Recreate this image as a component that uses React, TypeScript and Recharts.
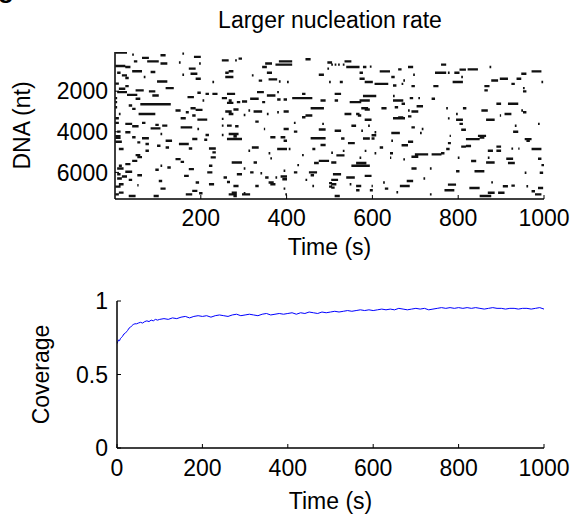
import { LineChart, Line, XAxis, YAxis, Label } from 'recharts';

// binding events on the DNA: [start (s), end (s), position (nt)]
const bindingEvents: [number, number, number][] = [
  [1, 28, 100], [40, 44, 200], [106, 118, 230], [157, 161, 150], [184, 200, 310], [63, 79, 360],
  [44, 52, 530], [75, 102, 530], [106, 122, 640], [149, 153, 590], [196, 200, 640], [1, 24, 760],
  [24, 36, 810], [172, 188, 890], [40, 63, 1020], [83, 94, 1055], [5, 13, 1090], [176, 192, 1140],
  [157, 161, 1190], [16, 28, 1220], [67, 71, 1300], [24, 32, 1350], [188, 200, 1385], [98, 122, 1520],
  [227, 231, 1550], [1, 9, 1630], [24, 32, 1750], [118, 137, 1850], [9, 24, 1880], [48, 67, 1960],
  [79, 94, 2010], [5, 28, 2045], [192, 200, 2080], [211, 219, 2130], [227, 239, 2130], [28, 52, 2180],
  [87, 102, 2210], [169, 184, 2290], [1, 5, 2340], [48, 59, 2375], [204, 208, 2460], [1, 5, 2540],
  [59, 130, 2640], [32, 40, 2705], [1, 5, 2790], [176, 188, 2840], [40, 48, 2870], [188, 204, 2920],
  [141, 153, 2950], [165, 172, 3035], [55, 94, 3120], [9, 13, 3120], [180, 188, 3200], [1, 9, 3330],
  [153, 165, 3330], [192, 215, 3400], [63, 71, 3560], [1, 9, 3560], [24, 40, 3610], [94, 102, 3660],
  [110, 122, 3695], [40, 55, 3730], [153, 180, 3780], [83, 106, 3830], [192, 196, 3860], [5, 13, 3990],
  [24, 36, 4025], [106, 110, 4110], [211, 219, 4160], [1, 13, 4220], [1, 13, 4290], [40, 48, 4270],
  [63, 79, 4320], [180, 192, 4355], [208, 215, 4390], [118, 133, 4440], [1, 16, 4490], [52, 59, 4520],
  [71, 79, 4600], [149, 172, 4600], [98, 106, 4685], [118, 126, 4770], [172, 180, 4820], [219, 235, 4820],
  [9, 20, 4850], [71, 79, 4930], [227, 235, 5015], [48, 59, 5150], [52, 63, 5250], [223, 235, 5260],
  [141, 153, 5345], [40, 52, 5430], [153, 161, 5480], [24, 36, 5590], [9, 16, 5675], [106, 110, 5675],
  [219, 227, 5675], [122, 130, 5760], [5, 20, 5810], [172, 184, 5840], [94, 102, 5870], [24, 40, 5970],
  [215, 227, 6000], [5, 13, 6090], [52, 63, 6140], [161, 172, 6170], [16, 28, 6200], [5, 16, 6300],
  [32, 40, 6370], [102, 110, 6420], [188, 196, 6500], [9, 20, 6580], [219, 231, 6580], [52, 55, 6630],
  [1, 13, 6700], [106, 118, 6800], [180, 192, 6910], [9, 20, 6995], [196, 204, 7030], [1, 9, 7080],
  [165, 180, 7080], [32, 48, 7160], [90, 102, 7160],

  [249, 265, 480], [280, 284, 480], [288, 296, 395], [382, 413, 530], [350, 366, 640], [374, 413, 690],
  [444, 456, 430], [495, 506, 590], [343, 354, 810], [495, 499, 890], [265, 276, 1020], [257, 265, 1090],
  [354, 366, 1090], [475, 487, 1190], [319, 323, 1220], [257, 276, 1300], [358, 378, 1420], [335, 343, 1480],
  [382, 386, 1520], [401, 405, 1550], [499, 503, 1550], [331, 347, 2045], [261, 280, 2130], [354, 374, 2210],
  [378, 382, 2045], [436, 444, 2130], [249, 261, 2340], [413, 460, 2340], [315, 335, 2375], [378, 386, 2410],
  [393, 401, 2410], [265, 272, 2460], [479, 491, 2460], [296, 308, 2510], [284, 292, 2540], [343, 350, 2540],
  [261, 276, 2575], [456, 487, 2840], [276, 288, 2900], [311, 315, 2950], [257, 272, 3000], [323, 343, 3000],
  [393, 405, 3000], [378, 382, 3035], [265, 276, 3120], [354, 358, 3120], [300, 304, 3170], [444, 460, 3200],
  [436, 444, 3280], [249, 253, 3365], [327, 335, 3500], [417, 421, 3560], [483, 487, 3610], [249, 253, 3695],
  [261, 272, 3695], [280, 288, 3730], [347, 350, 3860], [393, 405, 3860], [475, 491, 3890], [417, 425, 3990],
  [265, 288, 4110], [249, 253, 4160], [276, 284, 4220], [362, 374, 4270], [386, 397, 4270], [456, 491, 4320],
  [261, 296, 4355], [393, 401, 4440], [479, 491, 4650], [319, 335, 4770], [378, 401, 4850], [405, 409, 4850],
  [460, 467, 4850], [311, 315, 4930], [358, 362, 5060], [436, 440, 5150], [362, 366, 5310], [475, 499, 5430],
  [272, 296, 5510], [323, 331, 5510], [464, 475, 5540], [425, 429, 5640], [300, 304, 5810], [393, 397, 5920],
  [315, 323, 6000], [417, 425, 6000], [452, 471, 6000], [339, 343, 6040], [284, 296, 6090], [456, 464, 6140],
  [386, 401, 6200], [253, 261, 6250], [350, 358, 6250], [374, 378, 6250], [390, 401, 6340], [444, 448, 6370],
  [261, 268, 6470], [358, 370, 6500], [499, 506, 6530], [362, 374, 6580], [276, 288, 6670], [327, 335, 6670],
  [460, 464, 6670], [499, 506, 6700], [393, 397, 6800], [272, 284, 7000], [300, 304, 7030], [265, 284, 7080],
  [296, 315, 7080], [397, 401, 7080], [276, 284, 7160],

  [535, 551, 530], [504, 508, 690], [512, 516, 690], [520, 524, 690], [531, 535, 690], [539, 570, 810],
  [578, 586, 810], [594, 598, 790], [683, 695, 810], [660, 668, 925], [617, 641, 1025], [746, 761, 1090],
  [570, 578, 1090], [695, 699, 1190], [644, 652, 1300], [570, 582, 1385], [672, 676, 1470], [524, 531, 1550],
  [582, 601, 1550], [605, 637, 1640], [668, 672, 1640], [648, 656, 1720], [691, 699, 1750], [742, 754, 1750],
  [512, 527, 2130], [578, 609, 2240], [648, 652, 2240], [687, 695, 2340], [707, 711, 2340], [738, 746, 2375],
  [512, 520, 2460], [570, 594, 2460], [648, 672, 2460], [547, 574, 2540], [668, 676, 2620], [703, 718, 2740],
  [652, 660, 2790], [574, 590, 2840], [621, 633, 2840], [582, 594, 2900], [683, 687, 2950], [691, 707, 3000],
  [535, 551, 3120], [562, 570, 3120], [566, 574, 3200], [683, 691, 3240], [660, 672, 3290], [648, 676, 3330],
  [582, 598, 3410], [551, 562, 3700], [590, 594, 3700], [691, 699, 3780], [715, 719, 3860], [512, 527, 3950],
  [574, 578, 3950], [605, 609, 4025], [644, 664, 4060], [711, 715, 4060], [598, 609, 4170], [578, 594, 4330],
  [598, 605, 4330], [527, 535, 4330], [644, 648, 4440], [683, 695, 4490], [543, 559, 4560], [668, 683, 4660],
  [617, 625, 4770], [531, 535, 4940], [582, 586, 4940], [504, 508, 5030], [605, 609, 5060], [641, 648, 5060],
  [699, 730, 5110], [738, 761, 5110], [516, 535, 5160], [691, 707, 5230], [570, 574, 5280], [641, 644, 5280],
  [672, 676, 5360], [504, 516, 5510], [562, 586, 5540], [551, 594, 5675], [691, 703, 5810], [734, 738, 5810],
  [508, 527, 6090], [582, 598, 6170], [539, 559, 6250], [719, 723, 6300], [504, 520, 6370], [680, 695, 6420],
  [625, 629, 6500], [504, 516, 6580], [547, 551, 6580], [562, 574, 6670], [598, 601, 6670], [664, 687, 6670],
  [504, 512, 6750], [629, 637, 6800], [562, 570, 6880], [594, 601, 6880], [656, 660, 6980], [734, 738, 7080],
  [512, 524, 7160],

  [760, 772, 690], [873, 877, 810], [822, 846, 925], [803, 818, 940], [971, 994, 1025], [760, 772, 1090],
  [776, 780, 1090], [791, 803, 1090], [947, 959, 1140], [807, 811, 1300], [897, 916, 1385], [936, 947, 1385],
  [877, 893, 1470], [787, 811, 1550], [994, 998, 1550], [924, 932, 1640], [861, 873, 1750], [951, 955, 1850],
  [861, 869, 1960], [951, 959, 2010], [889, 900, 2620], [916, 940, 2620], [772, 776, 2840], [811, 819, 2840],
  [854, 869, 2950], [947, 951, 2950], [951, 959, 3035], [795, 799, 3120], [908, 924, 3120], [897, 900, 3200],
  [776, 780, 3340], [795, 811, 3410], [865, 885, 3410], [803, 811, 3610], [986, 990, 3610], [932, 936, 3700],
  [807, 818, 3900], [928, 940, 4000], [780, 783, 4200], [846, 865, 4200], [850, 861, 4280], [818, 850, 4360],
  [955, 971, 4360], [959, 967, 4440], [776, 783, 4560], [818, 830, 4700], [807, 818, 4730], [889, 900, 4730],
  [924, 928, 4830], [940, 943, 4830], [772, 780, 4850], [971, 994, 4850], [869, 881, 4930], [889, 900, 4930],
  [760, 768, 5060], [799, 803, 5280], [869, 873, 5280], [912, 928, 5330], [986, 994, 5330], [830, 842, 5440],
  [865, 885, 5510], [916, 932, 5540], [994, 1000, 5640], [795, 803, 5940], [838, 861, 5940], [955, 959, 6020],
  [990, 998, 6020], [877, 881, 6490], [776, 795, 6600], [924, 932, 6650], [904, 916, 6680], [959, 963, 6680],
  [826, 850, 6770], [986, 998, 6770], [768, 791, 6880], [971, 979, 6930], [869, 885, 7000], [893, 908, 7000],
  [979, 994, 7080], [850, 877, 7160],
];

const coverageTime = [
  0, 2, 4, 6, 8, 10, 13, 16, 19, 22, 25, 28, 31, 34, 38, 42, 46, 50, 55, 60, 65, 70, 75, 80, 85, 90, 95, 100,
  110, 120, 130, 140, 150, 160, 170, 180, 190, 200, 210, 220, 230, 240, 250, 260, 270, 280, 290, 300,
  310, 320, 330, 340, 350, 360, 370, 380, 390, 400, 410, 420, 430, 440, 450, 460, 470, 480, 490, 500,
  510, 520, 530, 540, 550, 560, 570, 580, 590, 600, 610, 620, 630, 640, 650, 660, 670, 680, 690, 700,
  710, 720, 730, 740, 750, 760, 770, 780, 790, 800, 810, 820, 830, 840, 850, 860, 870, 880, 890, 900,
  910, 920, 930, 940, 950, 960, 970, 980, 990, 1000,
];
const coverageValue = [
  0.71, 0.725, 0.735, 0.73, 0.745, 0.75, 0.76, 0.775, 0.78, 0.79, 0.8, 0.815, 0.82, 0.83, 0.84, 0.845, 0.845,
  0.85, 0.855, 0.85, 0.86, 0.865, 0.86, 0.87, 0.865, 0.875, 0.87, 0.875,
  0.88, 0.875, 0.885, 0.88, 0.89, 0.895, 0.885, 0.895, 0.9, 0.895, 0.9, 0.89, 0.9, 0.905, 0.9, 0.895, 0.905,
  0.91, 0.9, 0.905,
  0.91, 0.905, 0.9, 0.91, 0.915, 0.905, 0.91, 0.915, 0.91, 0.915, 0.92, 0.91, 0.92, 0.915, 0.925, 0.92,
  0.915, 0.925, 0.92, 0.925,
  0.93, 0.925, 0.93, 0.935, 0.93, 0.935, 0.94, 0.935, 0.94, 0.935, 0.94, 0.945, 0.94, 0.945, 0.94, 0.95,
  0.945, 0.94, 0.945, 0.95,
  0.945, 0.95, 0.94, 0.945, 0.95, 0.955, 0.95, 0.955, 0.95, 0.955, 0.95, 0.955, 0.95, 0.955, 0.95, 0.945,
  0.95, 0.955, 0.95, 0.95,
  0.945, 0.95, 0.95, 0.945, 0.95, 0.95, 0.945, 0.95, 0.955, 0.945,
];

const timeTicksTop = [200, 400, 600, 800, 1000];
const timeTicks = [0, 200, 400, 600, 800, 1000];
const dnaTicks = [2000, 4000, 6000];
const coverageTicks = [0, 0.5, 1];

const FONT = 'Arial, "Liberation Sans", sans-serif';
const tickStyle = { fontSize: 23, fill: '#000', fontFamily: FONT };
const labelStyle = { fontSize: 23, fill: '#000', fontFamily: FONT };
const axisLine = { stroke: '#000', strokeWidth: 1.5 };
const tickLine = { stroke: '#000', strokeWidth: 1 };

export default function App() {
  // one path, broken by nulls between events
  const kymo: { t: number; nt: number | null }[] = [];
  bindingEvents.forEach(([a, b, n]) => {
    kymo.push({ t: a, nt: n }, { t: b, nt: n }, { t: b, nt: null });
  });

  const coverage = coverageTime.map((t, i) => ({ t, c: coverageValue[i] }));

  return (
    <div style={{ position: 'absolute', left: 0, top: 0, width: 573, height: 523, background: '#fff', fontFamily: FONT, overflow: 'hidden' }}>
      <div style={{ position: 'absolute', left: -2, top: -24, fontSize: 26, fontWeight: 'bold', lineHeight: '26px' }}>g</div>

      <div style={{ position: 'absolute', left: 130, top: 9, width: 400, textAlign: 'center', fontSize: 23, lineHeight: '23px' }}>
        Larger nucleation rate
      </div>

      <div style={{ position: 'absolute', left: 0, top: 0 }}>
        <LineChart width={573} height={270} data={kymo} margin={{ top: 52, right: 29, bottom: 0, left: 0 }}>
          <XAxis
            dataKey="t" type="number" domain={[0, 1000]} ticks={timeTicksTop} allowDataOverflow
            height={71} tickSize={-4} tickMargin={15} tick={tickStyle} axisLine={axisLine} tickLine={tickLine}
          >
            <Label value="Time (s)" position="insideBottom" offset={15} style={labelStyle} />
          </XAxis>
          <XAxis
            xAxisId="top" orientation="top" type="number" domain={[0, 1000]} ticks={timeTicksTop}
            height={0} tickSize={-4} tick={false} axisLine={axisLine} tickLine={tickLine}
          />
          <YAxis
            type="number" domain={[70, 7310]} reversed ticks={dnaTicks} allowDataOverflow
            width={115} tickSize={-4} tickMargin={11} tick={tickStyle} axisLine={axisLine} tickLine={tickLine}
          >
            <Label value="DNA (nt)" angle={-90} position="insideLeft" offset={22} style={{ ...labelStyle, textAnchor: 'middle' }} />
          </YAxis>
          <YAxis
            yAxisId="right" orientation="right" type="number" domain={[70, 7310]} reversed ticks={dnaTicks}
            width={0} tickSize={-4} tick={false} axisLine={axisLine} tickLine={tickLine}
          />
          <Line
            dataKey="nt" stroke="#111" strokeWidth={2.4} strokeLinecap="butt" dot={false} activeDot={false}
            connectNulls={false} isAnimationActive={false}
          />
        </LineChart>
      </div>

      <div style={{ position: 'absolute', left: 0, top: 270 }}>
        <LineChart width={573} height={253} data={coverage} margin={{ top: 31, right: 29, bottom: 0, left: 0 }}>
          <XAxis
            dataKey="t" type="number" domain={[0, 1000]} ticks={timeTicks} allowDataOverflow
            height={75} tickSize={-4} tickMargin={16} tick={tickStyle} axisLine={axisLine} tickLine={tickLine}
          >
            <Label value="Time (s)" position="insideBottom" offset={14} style={labelStyle} />
          </XAxis>
          <XAxis
            xAxisId="top" orientation="top" type="number" domain={[0, 1000]} ticks={timeTicks}
            height={0} tickSize={-4} tick={false} axisLine={axisLine} tickLine={tickLine}
          />
          <YAxis
            type="number" domain={[0, 1]} ticks={coverageTicks} allowDataOverflow
            width={117} tickSize={-4} tickMargin={13} tick={tickStyle} axisLine={axisLine} tickLine={tickLine}
          >
            <Label value="Coverage" angle={-90} position="insideLeft" offset={41} style={{ ...labelStyle, textAnchor: 'middle' }} />
          </YAxis>
          <YAxis
            yAxisId="right" orientation="right" type="number" domain={[0, 1]} ticks={coverageTicks}
            width={0} tickSize={-4} tick={false} axisLine={axisLine} tickLine={tickLine}
          />
          <Line dataKey="c" stroke="#0000ff" strokeWidth={1} dot={false} activeDot={false} isAnimationActive={false} />
        </LineChart>
      </div>
    </div>
  );
}
